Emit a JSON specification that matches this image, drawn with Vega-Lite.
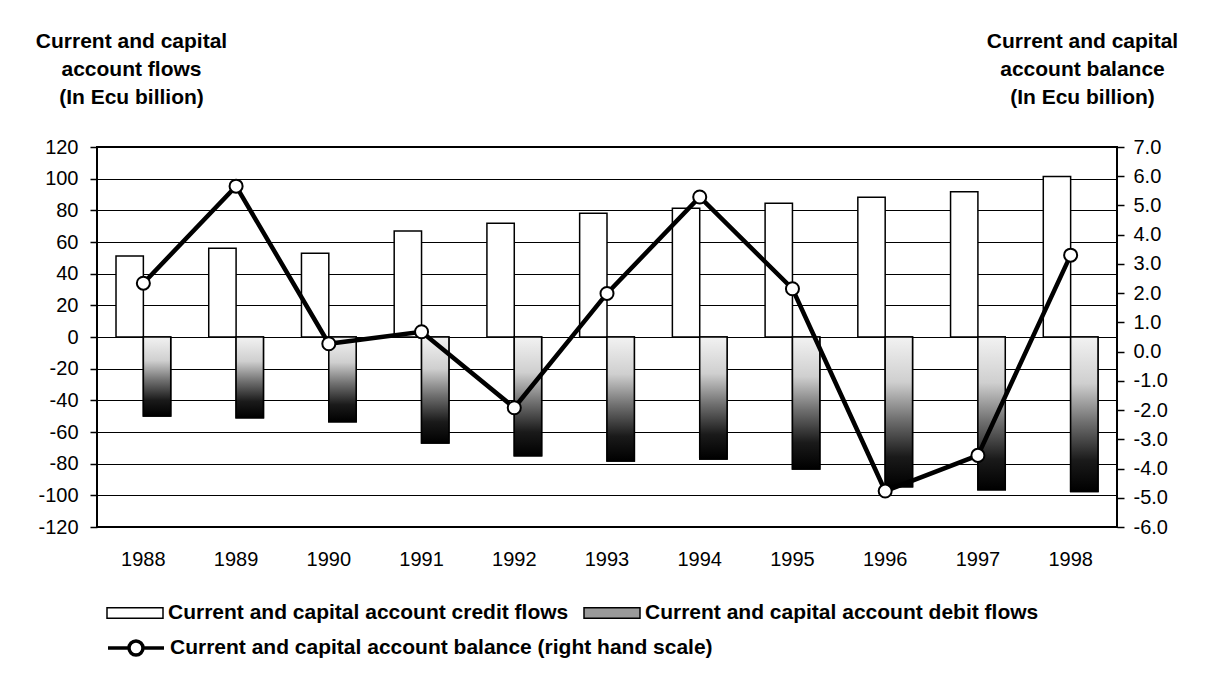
{
  "$schema": "https://vega.github.io/schema/vega-lite/v6.json",
  "width": 1020,
  "height": 380,
  "autosize": {"type": "none"},
  "padding": {"left": 97, "top": 147, "right": 89, "bottom": 157},
  "background": "white",
  "config": {
    "view": {"stroke": "black", "strokeWidth": 2},
    "font": "Liberation Sans",
    "axis": {"labelFont": "Liberation Sans", "labelFontSize": 20, "labelColor": "black", "titleFont": "Liberation Sans", "titleColor": "black"},
    "legend": {"padding": 0}
  },
  "datasets": {
    "flows": [
      {"year": "1988", "series": "Current and capital account credit flows", "value": 51.2},
      {"year": "1988", "series": "Current and capital account debit flows", "value": -49.9},
      {"year": "1989", "series": "Current and capital account credit flows", "value": 56.0},
      {"year": "1989", "series": "Current and capital account debit flows", "value": -51.0},
      {"year": "1990", "series": "Current and capital account credit flows", "value": 52.9},
      {"year": "1990", "series": "Current and capital account debit flows", "value": -53.5},
      {"year": "1991", "series": "Current and capital account credit flows", "value": 67.0},
      {"year": "1991", "series": "Current and capital account debit flows", "value": -67.0},
      {"year": "1992", "series": "Current and capital account credit flows", "value": 71.8},
      {"year": "1992", "series": "Current and capital account debit flows", "value": -75.0},
      {"year": "1993", "series": "Current and capital account credit flows", "value": 78.1},
      {"year": "1993", "series": "Current and capital account debit flows", "value": -78.3},
      {"year": "1994", "series": "Current and capital account credit flows", "value": 81.3},
      {"year": "1994", "series": "Current and capital account debit flows", "value": -77.0},
      {"year": "1995", "series": "Current and capital account credit flows", "value": 84.4},
      {"year": "1995", "series": "Current and capital account debit flows", "value": -83.4},
      {"year": "1996", "series": "Current and capital account credit flows", "value": 88.2},
      {"year": "1996", "series": "Current and capital account debit flows", "value": -94.5},
      {"year": "1997", "series": "Current and capital account credit flows", "value": 91.8},
      {"year": "1997", "series": "Current and capital account debit flows", "value": -96.5},
      {"year": "1998", "series": "Current and capital account credit flows", "value": 101.3},
      {"year": "1998", "series": "Current and capital account debit flows", "value": -97.5}
    ],
    "balance": [
      {"year": "1988", "balance": 2.34},
      {"year": "1989", "balance": 5.66},
      {"year": "1990", "balance": 0.27},
      {"year": "1991", "balance": 0.68},
      {"year": "1992", "balance": -1.92},
      {"year": "1993", "balance": 1.99},
      {"year": "1994", "balance": 5.29},
      {"year": "1995", "balance": 2.15},
      {"year": "1996", "balance": -4.77},
      {"year": "1997", "balance": -3.55},
      {"year": "1998", "balance": 3.30}
    ]
  },
  "layer": [
    {
      "data": {"name": "flows"},
      "encoding": {
        "x": {
          "field": "year", "type": "nominal",
          "scale": {"paddingInner": 0.41, "paddingOuter": 0.205},
          "axis": {"title": null, "domain": false, "ticks": false, "labelPadding": 22, "labelAngle": 0, "labelFontSize": 20}
        },
        "xOffset": {
          "field": "series", "type": "nominal",
          "scale": {"domain": ["Current and capital account credit flows", "Current and capital account debit flows"], "paddingInner": 0, "paddingOuter": 0}
        },
        "y": {
          "field": "value", "type": "quantitative",
          "scale": {"domain": [-120, 120], "nice": false, "zero": false},
          "axis": {
            "orient": "left",
            "values": [-120, -100, -80, -60, -40, -20, 0, 20, 40, 60, 80, 100, 120],
            "labelExpr": "(datum.value < 0 ? '-' : '') + abs(datum.value)",
            "grid": true, "gridColor": "black", "gridWidth": 1, "gridOpacity": 1,
            "domain": false, "tickColor": "black", "tickSize": 7, "tickWidth": 1.5, "labelPadding": 12,
            "title": ["Current and capital", "account flows", "(In Ecu billion)"],
            "titleAngle": 0, "titleAlign": "center", "titleBaseline": "top",
            "titleX": 34, "titleY": -117, "titleFontSize": 21, "titleFontWeight": "bold", "titleLineHeight": 28
          }
        }
      },
      "layer": [
        {
          "mark": {"type": "bar", "stroke": "black", "strokeWidth": 1.5},
          "encoding": {
            "color": {
              "field": "series", "type": "nominal",
              "scale": {
                "domain": ["Current and capital account credit flows", "Current and capital account debit flows"],
                "range": ["white", "#9a9a9a"]
              },
              "legend": {
                "orient": "none", "legendX": 9, "legendY": 437,
                "direction": "horizontal",
                "title": null,
                "labelFont": "Liberation Sans", "labelFontSize": 21, "labelFontWeight": "bold", "labelColor": "black",
                "labelLimit": 800, "labelOffset": 4,
                "symbolType": "M-1,-0.19H1V0.19H-1Z",
                "symbolSize": 3136, "symbolOpacity": 1,
                "symbolStrokeColor": "black", "symbolStrokeWidth": 1.5,
                "columnPadding": 12
              }
            }
          }
        },
        {
          "transform": [{"filter": "indexof(datum.series, 'debit') >= 0"}],
          "mark": {
            "type": "bar", "stroke": "black", "strokeWidth": 1.5,
            "fill": {"gradient": "linear", "x1": 0, "y1": 0, "x2": 0, "y2": 1, "stops": [
              {"offset": 0, "color": "#f2f2f2"},
              {"offset": 0.3, "color": "#cfcfcf"},
              {"offset": 0.55, "color": "#707070"},
              {"offset": 0.8, "color": "#1a1a1a"},
              {"offset": 1, "color": "#000000"}
            ]}
          }
        }
      ]
    },
    {
      "data": {"name": "balance"},
      "encoding": {
        "x": {"field": "year", "type": "nominal"},
        "y": {
          "field": "balance", "type": "quantitative",
          "scale": {"domain": [-6, 7], "nice": false, "zero": false},
          "axis": {
            "orient": "right",
            "values": [-6, -5, -4, -3, -2, -1, 0, 1, 2, 3, 4, 5, 6, 7],
            "labelExpr": "(datum.value < 0 ? '-' : '') + format(abs(datum.value), '.1f')",
            "grid": false, "domain": false, "tickColor": "black", "tickSize": 7, "tickWidth": 1.5, "labelPadding": 9,
            "title": ["Current and capital", "account balance", "(In Ecu billion)"],
            "titleAngle": 0, "titleAlign": "center", "titleBaseline": "top",
            "titleX": -35, "titleY": -117, "titleFontSize": 21, "titleFontWeight": "bold", "titleLineHeight": 28
          }
        }
      },
      "layer": [
        {
          "mark": {"type": "line", "strokeWidth": 4.5},
          "encoding": {
            "stroke": {
              "datum": "Current and capital account balance (right hand  scale)",
              "type": "nominal",
              "scale": {"range": ["black"]},
              "legend": {
                "orient": "none", "legendX": 9, "legendY": 471,
                "title": null,
                "labelFont": "Liberation Sans", "labelFontSize": 21, "labelFontWeight": "bold", "labelColor": "black",
                "labelLimit": 800, "labelOffset": 4,
                "symbolType": "M-1,0H-0.25M0.25,0H1M0.25,0A0.25,0.25,0,1,1,-0.25,0A0.25,0.25,0,1,1,0.25,0Z",
                "symbolSize": 3136, "symbolOpacity": 1,
                "symbolStrokeWidth": 3.5, "symbolFillColor": "white"
              }
            }
          }
        },
        {"mark": {"type": "point", "shape": "circle", "filled": true, "fill": "white", "stroke": "black", "strokeWidth": 2, "size": 170, "opacity": 1}}
      ]
    }
  ],
  "resolve": {"scale": {"y": "independent"}}
}
